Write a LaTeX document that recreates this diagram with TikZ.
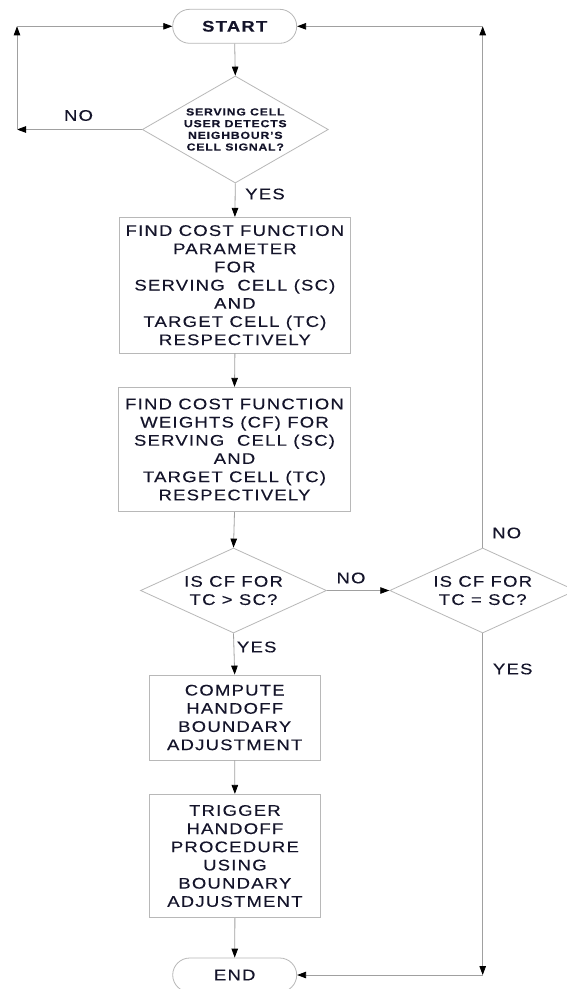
\documentclass[tikz,border=0pt]{standalone}
\usepackage{fontspec}
\setmainfont{Liberation Sans}[FakeStretch=1.2,LetterSpace=8,FakeBold=0.25]
\usetikzlibrary{shapes.geometric,arrows.meta}
\definecolor{linec}{HTML}{A0A0A0}
\definecolor{boxc}{HTML}{B8B8B8}
\definecolor{txtc}{HTML}{14142A}
\begin{document}
\begin{tikzpicture}[x=1pt,y=-1pt,
  base/.style={font=\fontsize{15.4}{18.2}\selectfont, text=txtc, align=center},
  procbox/.style={base, draw=boxc, line width=0.8pt, rectangle, inner sep=0pt},
  term/.style={base, draw=boxc, line width=0.8pt, rectangle, rounded corners=17pt, minimum width=124pt, minimum height=34pt, inner sep=0pt},
  decis/.style={base, draw=boxc, line width=0.8pt, diamond, inner sep=0pt, minimum width=186pt},
  lbl/.style={font=\fontsize{15.4}{18.2}\selectfont, text=txtc, inner sep=0pt},
  conn/.style={draw=linec, line width=0.8pt, -{Triangle[length=9pt,width=6.5pt,color=black]}}
]
\fill[white] (0,0) rectangle (566,989);
\useasboundingbox (0,0) rectangle (566,989);

% terminators
\node[term, font=\bfseries\fontsize{15.4}{18.2}\selectfont] (start) at (234.7,26.3) {START};
\node[term] (end) at (234.7,975) {END};

% decisions
\node[decis, minimum height=107pt, aspect=1.74, font=\bfseries\fontsize{10.2}{11.7}\selectfont] (d1) at (235.3,129.5)
  {SERVING CELL\\USER DETECTS\\NEIGHBOUR'S\\CELL SIGNAL?};
\node[decis, minimum height=85pt, aspect=2.19] (d2) at (233.5,590.5) {IS CF FOR\\TC > SC?};
\node[decis, minimum height=85pt, aspect=2.19] (d3) at (482.7,590.5) {IS CF FOR\\TC = SC?};

% process boxes
\node[procbox, minimum width=231.7pt, minimum height=135.7pt] (b1) at (234.9,285.2)
  {FIND COST FUNCTION\\PARAMETER\\FOR\\SERVING~~CELL (SC)\\AND\\TARGET CELL (TC)\\RESPECTIVELY};
\node[procbox, minimum width=232.4pt, minimum height=124.4pt] (b2) at (234.5,449.5)
  {FIND COST FUNCTION\\WEIGHTS (CF) FOR\\SERVING~~CELL (SC)\\AND\\TARGET CELL (TC)\\RESPECTIVELY};
\node[procbox, minimum width=171pt, minimum height=85pt] (b3) at (234.7,717.5)
  {COMPUTE\\HANDOFF\\BOUNDARY\\ADJUSTMENT};
\node[procbox, minimum width=171.7pt, minimum height=123.4pt] (b4) at (234.9,856)
  {TRIGGER\\HANDOFF\\PROCEDURE\\USING\\BOUNDARY\\ADJUSTMENT};

% corner coordinates
\coordinate (cl1) at (17,129.5);
\coordinate (cl2) at (17,26.3);
\coordinate (cr1) at (482.7,26.3);
\coordinate (cr2) at (482.7,975);

% connectors
\draw[conn] (start.south) -- (d1.north);
\draw[conn] (d1.west) -- (cl1);
\draw[conn] (cl1) -- (cl2);
\draw[conn] (cl2) -- (start.west);
\draw[conn] (d1.south) -- (b1.north);
\draw[conn] (b1.south) -- (b2.north);
\draw[conn] (b2.south) -- (d2.north);
\draw[conn] (d2.south) -- (b3.north);
\draw[conn] (b3.south) -- (b4.north);
\draw[conn] (b4.south) -- (end.north);
\draw[conn] (d2.east) -- (d3.west);
\draw[conn] (d3.north) -- (cr1);
\draw[conn] (cr1) -- (start.east);
\draw[conn] (d3.south) -- (cr2);
\draw[conn] (cr2) -- (end.east);

% labels
\node[lbl] (lno1) at (78.5,115.5) {NO};
\node[lbl] (lyes1) at (265,194) {YES};
\node[lbl] (lno2) at (351,578) {NO};
\node[lbl] (lyes2) at (256.7,647) {YES};
\node[lbl] (lno3) at (506.7,533) {NO};
\node[lbl] (lyes3) at (512.7,669) {YES};
\end{tikzpicture}
\end{document}
